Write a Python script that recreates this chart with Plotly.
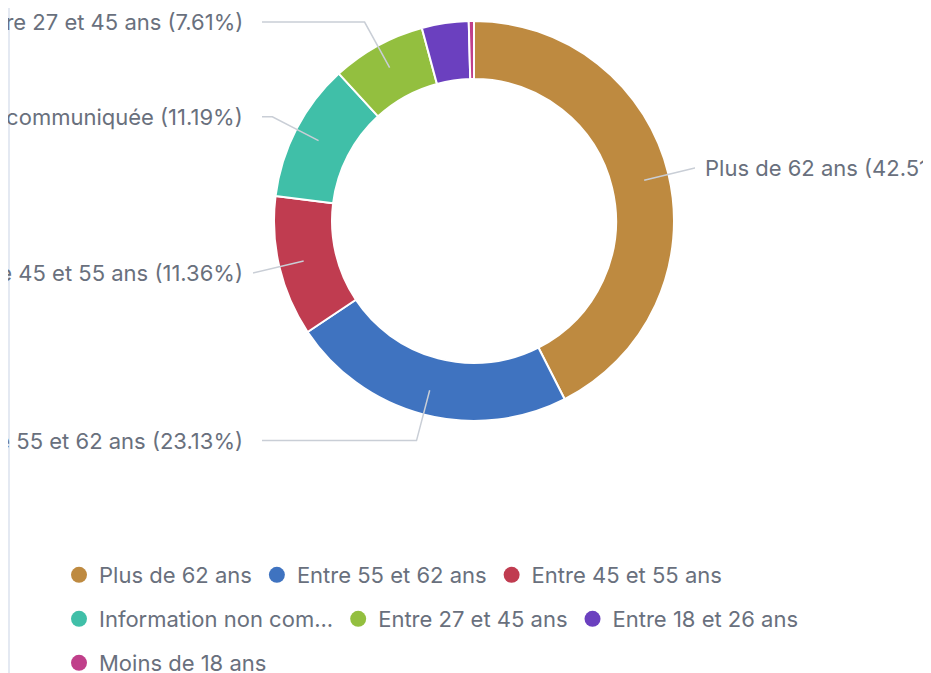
import math
import plotly.graph_objects as go

# data
labels = ["Plus de 62 ans", "Entre 55 et 62 ans", "Entre 45 et 55 ans",
          "Information non communiquée", "Entre 27 et 45 ans",
          "Entre 18 et 26 ans", "Moins de 18 ans"]
legend_labels = ["Plus de 62 ans", "Entre 55 et 62 ans", "Entre 45 et 55 ans",
                 "Information non com...", "Entre 27 et 45 ans",
                 "Entre 18 et 26 ans", "Moins de 18 ans"]
shares = [42.51, 23.13, 11.36, 11.19, 7.61, 3.78, 0.42]
colors = ["#BE8A40", "#3F73C0", "#C03C50", "#40BFA8", "#93BF3F", "#6B40BF", "#C03F8A"]
legend_rows = [0, 0, 0, 1, 1, 1, 2]

W, H = 931, 673
OFF = 8  # page body margin: screen pixel = figure pixel + OFF
CX, CY, R_OUT = 474, 221, 200   # screen pixels
R_LINK0, R_LINK1 = 175, 227
TEXT_COLOR = "#69707D"
FONT = "Inter"
FSIZE = 22

fig = go.Figure()

fig.add_trace(go.Pie(
    labels=labels, values=shares, sort=False, direction="clockwise", rotation=0,
    hole=0.71, textinfo="none", showlegend=False,
    marker=dict(colors=colors, line=dict(color="white", width=2)),
    domain=dict(x=[(CX - OFF - R_OUT) / W, (CX - OFF + R_OUT) / W],
                y=[1 - (CY - OFF + R_OUT) / H, 1 - (CY - OFF - R_OUT) / H]),
))

# legend entries with round markers
for i, (name, col) in enumerate(zip(legend_labels, colors)):
    fig.add_trace(go.Scatter(
        x=[None], y=[None], mode="markers", name=name,
        marker=dict(symbol="circle", size=16, color=col),
        legend=["legend", "legend2", "legend3"][legend_rows[i]],
    ))

# outside labels with leader lines (axis coords = screen pixels)
shapes = []
annotations = []
total = sum(shares)
start = 0.0
for lab, val in zip(labels, shares):
    ang = start + val / total * 360 / 2
    start += val / total * 360
    if val / total < 0.05:
        continue
    a = math.radians(ang)
    x0, y0 = CX + R_LINK0 * math.sin(a), CY - R_LINK0 * math.cos(a)
    x1, y1 = CX + R_LINK1 * math.sin(a), CY - R_LINK1 * math.cos(a)
    right = math.sin(a) > 0
    x2 = CX + 221 if right else CX - 212
    if right:
        x2 = max(x2, x1)
    else:
        x2 = min(x2, x1)
    shapes.append(dict(type="path", xref="x", yref="y", layer="above",
                       path=f"M{x0},{y0} L{x1},{y1} L{x2},{y1}",
                       line=dict(color="#C9CED6", width=1.5)))
    annotations.append(dict(
        x=CX + 229 if right else CX - 229, y=y1, xref="x", yref="y",
        text=f"{lab} ({val:.2f}%)", showarrow=False,
        xanchor="left" if right else "right", yanchor="middle",
        font=dict(family=FONT, size=FSIZE, color=TEXT_COLOR),
    ))

# panel border on the left
shapes.append(dict(type="line", xref="x", yref="y", x0=OFF + 1, x1=OFF + 1,
                   y0=OFF, y1=H + OFF,
                   line=dict(color="#E4E9F2", width=2), layer="below"))

leg_common = dict(orientation="h", xanchor="left", yanchor="middle",
                  font=dict(family=FONT, size=FSIZE, color=TEXT_COLOR),
                  bgcolor="rgba(0,0,0,0)", itemclick=False)


def ly(py):
    return 1 - (py - OFF) / H


fig.update_layout(
    width=W, height=H, margin=dict(l=0, r=0, t=0, b=0, autoexpand=False),
    paper_bgcolor="white", plot_bgcolor="white",
    xaxis=dict(range=[OFF, W + OFF], visible=False, fixedrange=True, domain=[0, 1]),
    yaxis=dict(range=[H + OFF, OFF], visible=False, fixedrange=True, domain=[0, 1]),
    shapes=shapes, annotations=annotations,
    legend=dict(x=(59 - OFF) / W, y=ly(575), **leg_common),
    legend2=dict(x=(59 - OFF) / W, y=ly(619), **leg_common),
    legend3=dict(x=(59 - OFF) / W, y=ly(663), **leg_common),
    font=dict(family=FONT),
)

fig.write_html("out.html")
